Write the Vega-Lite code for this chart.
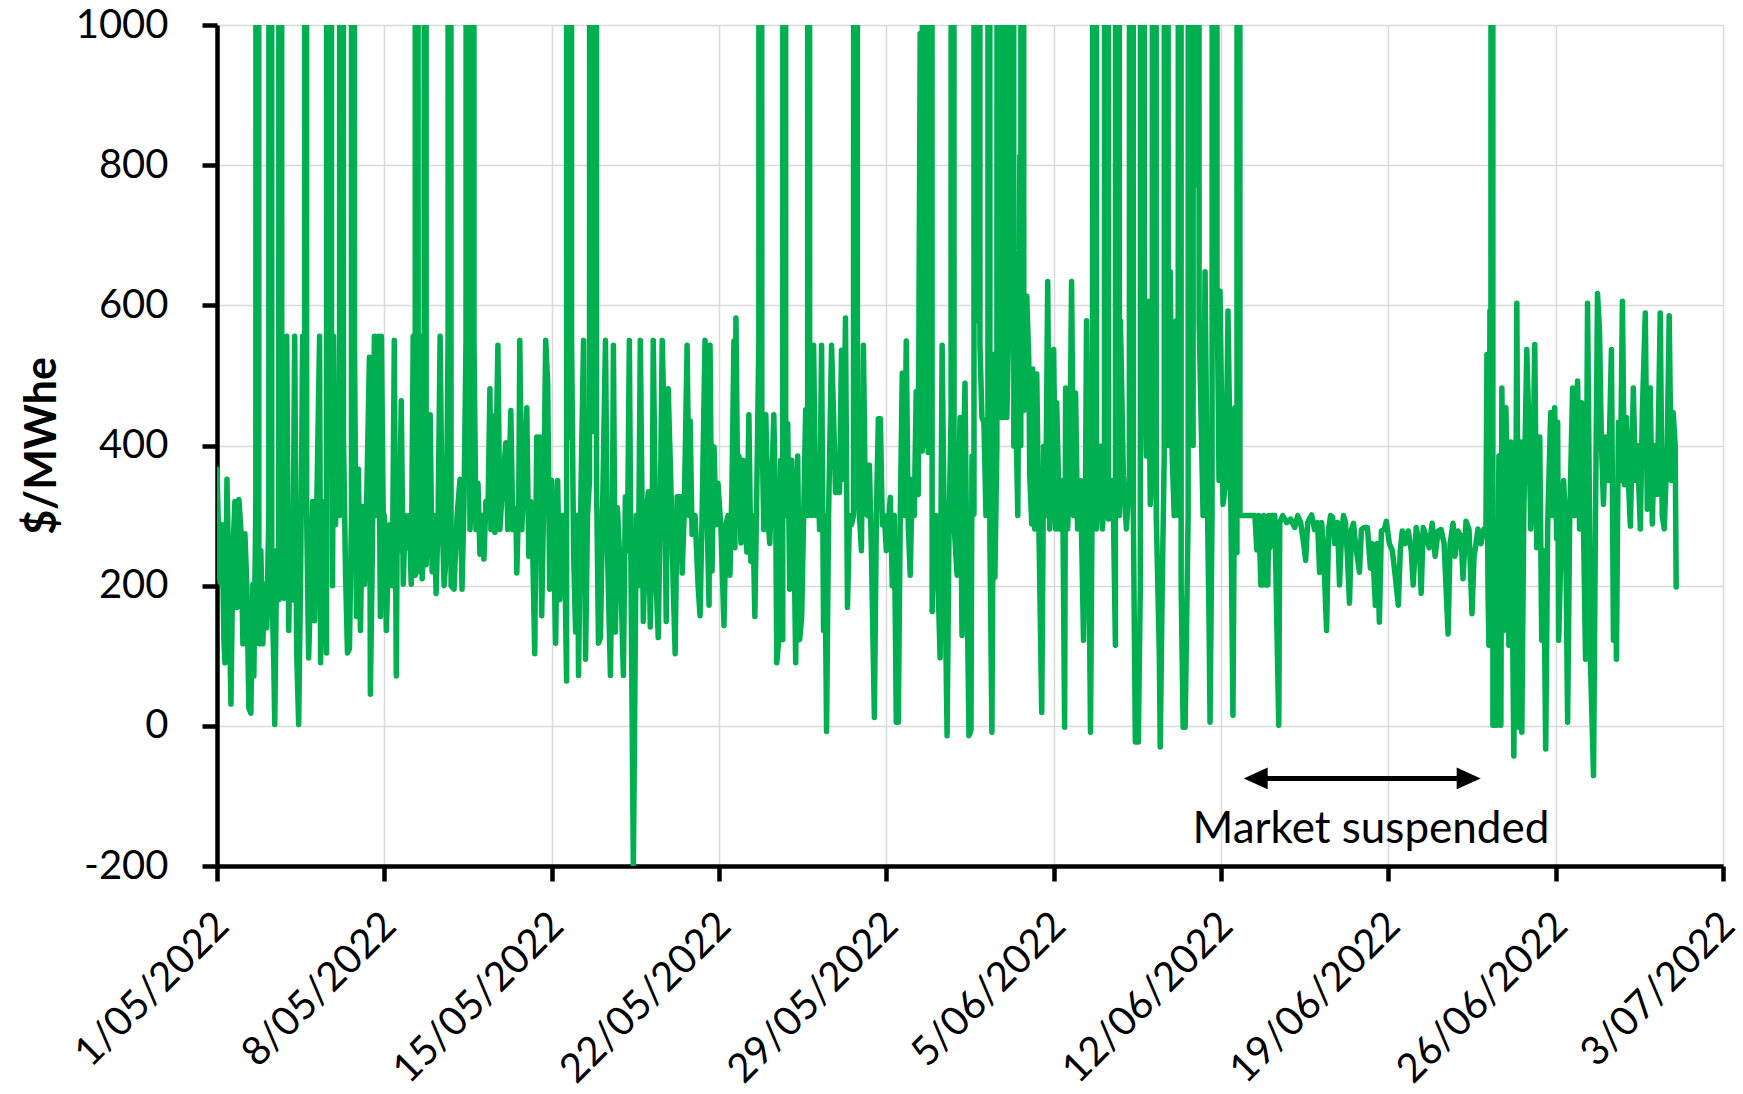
{
  "$schema": "https://vega.github.io/schema/vega-lite/v6.json",
  "autosize": {"type": "none"},
  "padding": {"left": 217, "top": 25, "right": 20, "bottom": 228},
  "width": 1506,
  "height": 841,
  "background": "white",
  "config": {"view": {"stroke": null}, "font": "Lato"},
  "layer": [
    {
      "data": {"values": [
{"t":"2022-05-01T00:00","v":366},{"t":"2022-05-01T02:00","v":250},{"t":"2022-05-01T03:00","v":205},{"t":"2022-05-01T05:00","v":287},{"t":"2022-05-01T07:00","v":120},{"t":"2022-05-01T08:00","v":90},{"t":"2022-05-01T10:00","v":352},{"t":"2022-05-01T12:00","v":200},{"t":"2022-05-01T14:00","v":31},{"t":"2022-05-01T16:00","v":250},{"t":"2022-05-01T18:00","v":320},{"t":"2022-05-01T20:00","v":169},{"t":"2022-05-01T22:00","v":323},
{"t":"2022-05-02T00:00","v":280},{"t":"2022-05-02T02:00","v":117},{"t":"2022-05-02T04:00","v":274},{"t":"2022-05-02T06:00","v":200},{"t":"2022-05-02T08:00","v":25},{"t":"2022-05-02T10:00","v":18},{"t":"2022-05-02T12:00","v":202},{"t":"2022-05-02T13:00","v":71},{"t":"2022-05-02T15:00","v":320},{"t":"2022-05-02T17:00","v":15100},{"t":"2022-05-02T18:00","v":117},{"t":"2022-05-02T20:00","v":250},{"t":"2022-05-02T22:00","v":117},
{"t":"2022-05-03T00:00","v":202},{"t":"2022-05-03T02:00","v":140},{"t":"2022-05-03T04:00","v":300},{"t":"2022-05-03T06:00","v":15100},{"t":"2022-05-03T07:00","v":200},{"t":"2022-05-03T09:00","v":90},{"t":"2022-05-03T10:00","v":2},{"t":"2022-05-03T12:00","v":250},{"t":"2022-05-03T14:00","v":180},{"t":"2022-05-03T16:00","v":15100},{"t":"2022-05-03T17:00","v":556},{"t":"2022-05-03T19:00","v":182},{"t":"2022-05-03T21:00","v":300},{"t":"2022-05-03T22:00","v":556},
{"t":"2022-05-04T00:00","v":136},{"t":"2022-05-04T02:00","v":307},{"t":"2022-05-04T04:00","v":180},{"t":"2022-05-04T06:00","v":556},{"t":"2022-05-04T08:00","v":104},{"t":"2022-05-04T10:00","v":2},{"t":"2022-05-04T12:00","v":221},{"t":"2022-05-04T14:00","v":556},{"t":"2022-05-04T16:00","v":556},{"t":"2022-05-04T17:00","v":15100},{"t":"2022-05-04T18:00","v":300},{"t":"2022-05-04T20:00","v":97},{"t":"2022-05-04T22:00","v":199},
{"t":"2022-05-05T00:00","v":320},{"t":"2022-05-05T02:00","v":150},{"t":"2022-05-05T04:00","v":300},{"t":"2022-05-05T07:00","v":556},{"t":"2022-05-05T08:00","v":90},{"t":"2022-05-05T10:00","v":250},{"t":"2022-05-05T12:00","v":320},{"t":"2022-05-05T14:00","v":104},{"t":"2022-05-05T15:00","v":15100},{"t":"2022-05-05T16:00","v":556},{"t":"2022-05-05T18:00","v":15100},{"t":"2022-05-05T19:00","v":556},{"t":"2022-05-05T20:00","v":200},{"t":"2022-05-05T21:00","v":556},{"t":"2022-05-05T23:00","v":287},
{"t":"2022-05-06T01:00","v":412},{"t":"2022-05-06T03:00","v":300},{"t":"2022-05-06T06:00","v":15100},{"t":"2022-05-06T07:00","v":412},{"t":"2022-05-06T09:00","v":221},{"t":"2022-05-06T11:00","v":104},{"t":"2022-05-06T13:00","v":110},{"t":"2022-05-06T15:00","v":300},{"t":"2022-05-06T16:00","v":15100},{"t":"2022-05-06T18:00","v":556},{"t":"2022-05-06T20:00","v":156},{"t":"2022-05-06T22:00","v":366},
{"t":"2022-05-07T00:00","v":136},{"t":"2022-05-07T02:00","v":313},{"t":"2022-05-07T04:00","v":202},{"t":"2022-05-07T06:00","v":300},{"t":"2022-05-07T09:00","v":526},{"t":"2022-05-07T10:00","v":45},{"t":"2022-05-07T12:00","v":250},{"t":"2022-05-07T14:00","v":556},{"t":"2022-05-07T16:00","v":300},{"t":"2022-05-07T18:00","v":556},{"t":"2022-05-07T20:00","v":156},{"t":"2022-05-07T21:00","v":556},{"t":"2022-05-07T23:00","v":287},
{"t":"2022-05-08T00:00","v":300},{"t":"2022-05-08T02:00","v":136},{"t":"2022-05-08T05:00","v":287},{"t":"2022-05-08T08:00","v":200},{"t":"2022-05-08T10:00","v":550},{"t":"2022-05-08T12:00","v":71},{"t":"2022-05-08T13:00","v":300},{"t":"2022-05-08T15:00","v":250},{"t":"2022-05-08T17:00","v":464},{"t":"2022-05-08T19:00","v":202},{"t":"2022-05-08T21:00","v":300},{"t":"2022-05-08T23:00","v":254},
{"t":"2022-05-09T01:00","v":300},{"t":"2022-05-09T03:00","v":202},{"t":"2022-05-09T05:00","v":556},{"t":"2022-05-09T07:00","v":215},{"t":"2022-05-09T08:00","v":15100},{"t":"2022-05-09T10:00","v":220},{"t":"2022-05-09T12:00","v":556},{"t":"2022-05-09T14:00","v":210},{"t":"2022-05-09T16:00","v":300},{"t":"2022-05-09T17:00","v":15100},{"t":"2022-05-09T18:00","v":230},{"t":"2022-05-09T20:00","v":300},{"t":"2022-05-09T22:00","v":444},
{"t":"2022-05-10T00:00","v":220},{"t":"2022-05-10T02:00","v":300},{"t":"2022-05-10T04:00","v":189},{"t":"2022-05-10T06:00","v":300},{"t":"2022-05-10T08:00","v":556},{"t":"2022-05-10T10:00","v":300},{"t":"2022-05-10T12:00","v":200},{"t":"2022-05-10T14:00","v":240},{"t":"2022-05-10T16:00","v":556},{"t":"2022-05-10T17:00","v":15100},{"t":"2022-05-10T19:00","v":200},{"t":"2022-05-10T22:00","v":195},
{"t":"2022-05-11T01:00","v":300},{"t":"2022-05-11T04:00","v":352},{"t":"2022-05-11T06:00","v":195},{"t":"2022-05-11T08:00","v":320},{"t":"2022-05-11T10:00","v":550},{"t":"2022-05-11T12:00","v":15100},{"t":"2022-05-11T13:00","v":550},{"t":"2022-05-11T14:00","v":280},{"t":"2022-05-11T16:00","v":346},{"t":"2022-05-11T17:00","v":15100},{"t":"2022-05-11T18:00","v":550},{"t":"2022-05-11T20:00","v":280},{"t":"2022-05-11T22:00","v":346},
{"t":"2022-05-12T00:00","v":245},{"t":"2022-05-12T02:00","v":300},{"t":"2022-05-12T04:00","v":238},{"t":"2022-05-12T06:00","v":320},{"t":"2022-05-12T08:00","v":300},{"t":"2022-05-12T10:00","v":481},{"t":"2022-05-12T11:00","v":280},{"t":"2022-05-12T13:00","v":442},{"t":"2022-05-12T15:00","v":276},{"t":"2022-05-12T18:00","v":543},{"t":"2022-05-12T20:00","v":280},{"t":"2022-05-12T23:00","v":350},
{"t":"2022-05-13T02:00","v":404},{"t":"2022-05-13T04:00","v":280},{"t":"2022-05-13T07:00","v":450},{"t":"2022-05-13T09:00","v":280},{"t":"2022-05-13T12:00","v":310},{"t":"2022-05-13T13:00","v":218},{"t":"2022-05-13T15:00","v":330},{"t":"2022-05-13T16:00","v":550},{"t":"2022-05-13T18:00","v":280},{"t":"2022-05-13T20:00","v":350},{"t":"2022-05-13T23:00","v":454},
{"t":"2022-05-14T01:00","v":242},{"t":"2022-05-14T03:00","v":320},{"t":"2022-05-14T05:00","v":250},{"t":"2022-05-14T07:00","v":103},{"t":"2022-05-14T09:00","v":412},{"t":"2022-05-14T11:00","v":300},{"t":"2022-05-14T12:00","v":412},{"t":"2022-05-14T14:00","v":157},{"t":"2022-05-14T16:00","v":320},{"t":"2022-05-14T18:00","v":550},{"t":"2022-05-14T20:00","v":489},{"t":"2022-05-14T22:00","v":195},
{"t":"2022-05-15T00:00","v":350},{"t":"2022-05-15T02:00","v":260},{"t":"2022-05-15T04:00","v":118},{"t":"2022-05-15T06:00","v":350},{"t":"2022-05-15T08:00","v":180},{"t":"2022-05-15T11:00","v":300},{"t":"2022-05-15T13:00","v":250},{"t":"2022-05-15T15:00","v":64},{"t":"2022-05-15T16:00","v":15100},{"t":"2022-05-15T17:00","v":412},{"t":"2022-05-15T19:00","v":15100},{"t":"2022-05-15T20:00","v":550},{"t":"2022-05-15T22:00","v":250},
{"t":"2022-05-16T00:00","v":134},{"t":"2022-05-16T02:00","v":300},{"t":"2022-05-16T03:00","v":72},{"t":"2022-05-16T05:00","v":300},{"t":"2022-05-16T08:00","v":550},{"t":"2022-05-16T10:00","v":95},{"t":"2022-05-16T12:00","v":300},{"t":"2022-05-16T14:00","v":350},{"t":"2022-05-16T16:00","v":15100},{"t":"2022-05-16T18:00","v":420},{"t":"2022-05-16T20:00","v":15100},{"t":"2022-05-16T21:00","v":350},{"t":"2022-05-16T23:00","v":118},
{"t":"2022-05-17T01:00","v":126},{"t":"2022-05-17T03:00","v":300},{"t":"2022-05-17T06:00","v":550},{"t":"2022-05-17T08:00","v":250},{"t":"2022-05-17T11:00","v":72},{"t":"2022-05-17T13:00","v":300},{"t":"2022-05-17T14:00","v":543},{"t":"2022-05-17T16:00","v":134},{"t":"2022-05-17T18:00","v":311},{"t":"2022-05-17T20:00","v":250},{"t":"2022-05-17T22:00","v":180},
{"t":"2022-05-18T00:00","v":72},{"t":"2022-05-18T02:00","v":327},{"t":"2022-05-18T04:00","v":250},{"t":"2022-05-18T06:00","v":550},{"t":"2022-05-18T08:00","v":150},{"t":"2022-05-18T10:00","v":-200},{"t":"2022-05-18T11:00","v":-40},{"t":"2022-05-18T13:00","v":300},{"t":"2022-05-18T15:00","v":200},{"t":"2022-05-18T17:00","v":550},{"t":"2022-05-18T20:00","v":149},{"t":"2022-05-18T23:00","v":300},
{"t":"2022-05-19T01:00","v":334},{"t":"2022-05-19T03:00","v":141},{"t":"2022-05-19T05:00","v":300},{"t":"2022-05-19T06:00","v":550},{"t":"2022-05-19T09:00","v":200},{"t":"2022-05-19T11:00","v":126},{"t":"2022-05-19T13:00","v":300},{"t":"2022-05-19T15:00","v":550},{"t":"2022-05-19T17:00","v":419},{"t":"2022-05-19T19:00","v":149},{"t":"2022-05-19T21:00","v":481},
{"t":"2022-05-20T00:00","v":327},{"t":"2022-05-20T02:00","v":200},{"t":"2022-05-20T04:00","v":103},{"t":"2022-05-20T06:00","v":327},{"t":"2022-05-20T09:00","v":327},{"t":"2022-05-20T11:00","v":218},{"t":"2022-05-20T13:00","v":300},{"t":"2022-05-20T16:00","v":543},{"t":"2022-05-20T18:00","v":300},{"t":"2022-05-20T19:00","v":435},{"t":"2022-05-20T21:00","v":273},
{"t":"2022-05-21T00:00","v":300},{"t":"2022-05-21T03:00","v":200},{"t":"2022-05-21T05:00","v":157},{"t":"2022-05-21T07:00","v":300},{"t":"2022-05-21T10:00","v":550},{"t":"2022-05-21T12:00","v":300},{"t":"2022-05-21T14:00","v":172},{"t":"2022-05-21T15:00","v":543},{"t":"2022-05-21T17:00","v":221},{"t":"2022-05-21T19:00","v":398},{"t":"2022-05-21T21:00","v":287},{"t":"2022-05-21T23:00","v":346},
{"t":"2022-05-22T02:00","v":280},{"t":"2022-05-22T05:00","v":143},{"t":"2022-05-22T07:00","v":287},{"t":"2022-05-22T09:00","v":300},{"t":"2022-05-22T11:00","v":215},{"t":"2022-05-22T13:00","v":339},{"t":"2022-05-22T15:00","v":549},{"t":"2022-05-22T16:00","v":254},{"t":"2022-05-22T17:00","v":582},{"t":"2022-05-22T19:00","v":300},{"t":"2022-05-22T20:00","v":385},{"t":"2022-05-22T22:00","v":261},
{"t":"2022-05-23T00:00","v":379},{"t":"2022-05-23T02:00","v":300},{"t":"2022-05-23T04:00","v":248},{"t":"2022-05-23T06:00","v":444},{"t":"2022-05-23T08:00","v":235},{"t":"2022-05-23T10:00","v":300},{"t":"2022-05-23T12:00","v":156},{"t":"2022-05-23T14:00","v":339},{"t":"2022-05-23T16:00","v":549},{"t":"2022-05-23T17:00","v":15100},{"t":"2022-05-23T19:00","v":438},{"t":"2022-05-23T21:00","v":280},{"t":"2022-05-23T23:00","v":444},
{"t":"2022-05-24T01:00","v":300},{"t":"2022-05-24T03:00","v":260},{"t":"2022-05-24T05:00","v":350},{"t":"2022-05-24T07:00","v":444},{"t":"2022-05-24T09:00","v":300},{"t":"2022-05-24T10:00","v":90},{"t":"2022-05-24T12:00","v":123},{"t":"2022-05-24T14:00","v":379},{"t":"2022-05-24T16:00","v":123},{"t":"2022-05-24T17:00","v":15100},{"t":"2022-05-24T19:00","v":300},{"t":"2022-05-24T21:00","v":431},{"t":"2022-05-24T23:00","v":195},
{"t":"2022-05-25T01:00","v":379},{"t":"2022-05-25T03:00","v":300},{"t":"2022-05-25T05:00","v":90},{"t":"2022-05-25T07:00","v":385},{"t":"2022-05-25T09:00","v":123},{"t":"2022-05-25T11:00","v":156},{"t":"2022-05-25T13:00","v":300},{"t":"2022-05-25T15:00","v":451},{"t":"2022-05-25T17:00","v":300},{"t":"2022-05-25T18:00","v":15100},{"t":"2022-05-25T19:00","v":543},{"t":"2022-05-25T21:00","v":300},{"t":"2022-05-25T23:00","v":543},
{"t":"2022-05-26T01:00","v":300},{"t":"2022-05-26T03:00","v":379},{"t":"2022-05-26T05:00","v":280},{"t":"2022-05-26T07:00","v":543},{"t":"2022-05-26T09:00","v":136},{"t":"2022-05-26T10:00","v":300},{"t":"2022-05-26T12:00","v":-8},{"t":"2022-05-26T14:00","v":300},{"t":"2022-05-26T17:00","v":543},{"t":"2022-05-26T19:00","v":444},{"t":"2022-05-26T21:00","v":333},{"t":"2022-05-26T23:00","v":379},
{"t":"2022-05-27T01:00","v":333},{"t":"2022-05-27T03:00","v":536},{"t":"2022-05-27T05:00","v":352},{"t":"2022-05-27T07:00","v":582},{"t":"2022-05-27T09:00","v":169},{"t":"2022-05-27T11:00","v":300},{"t":"2022-05-27T13:00","v":287},{"t":"2022-05-27T15:00","v":300},{"t":"2022-05-27T18:00","v":15100},{"t":"2022-05-27T19:00","v":339},{"t":"2022-05-27T21:00","v":300},{"t":"2022-05-27T23:00","v":250},
{"t":"2022-05-28T01:00","v":543},{"t":"2022-05-28T03:00","v":307},{"t":"2022-05-28T05:00","v":300},{"t":"2022-05-28T07:00","v":372},{"t":"2022-05-28T09:00","v":250},{"t":"2022-05-28T12:00","v":12},{"t":"2022-05-28T14:00","v":300},{"t":"2022-05-28T16:00","v":438},{"t":"2022-05-28T18:00","v":438},{"t":"2022-05-28T20:00","v":287},{"t":"2022-05-28T22:00","v":300},
{"t":"2022-05-29T00:00","v":250},{"t":"2022-05-29T02:00","v":287},{"t":"2022-05-29T04:00","v":326},{"t":"2022-05-29T06:00","v":200},{"t":"2022-05-29T08:00","v":300},{"t":"2022-05-29T10:00","v":5},{"t":"2022-05-29T12:00","v":5},{"t":"2022-05-29T14:00","v":300},{"t":"2022-05-29T16:00","v":503},{"t":"2022-05-29T18:00","v":300},{"t":"2022-05-29T20:00","v":549},{"t":"2022-05-29T22:00","v":287},
{"t":"2022-05-30T00:00","v":215},{"t":"2022-05-30T02:00","v":352},{"t":"2022-05-30T04:00","v":300},{"t":"2022-05-30T06:00","v":477},{"t":"2022-05-30T08:00","v":330},{"t":"2022-05-30T10:00","v":988},{"t":"2022-05-30T12:00","v":392},{"t":"2022-05-30T14:00","v":15100},{"t":"2022-05-30T15:00","v":400},{"t":"2022-05-30T17:00","v":15100},{"t":"2022-05-30T18:00","v":390},{"t":"2022-05-30T20:00","v":15100},{"t":"2022-05-30T22:00","v":163},
{"t":"2022-05-31T00:00","v":287},{"t":"2022-05-31T02:00","v":300},{"t":"2022-05-31T04:00","v":200},{"t":"2022-05-31T06:00","v":97},{"t":"2022-05-31T08:00","v":543},{"t":"2022-05-31T10:00","v":300},{"t":"2022-05-31T13:00","v":-14},{"t":"2022-05-31T15:00","v":287},{"t":"2022-05-31T17:00","v":444},{"t":"2022-05-31T18:00","v":15100},{"t":"2022-05-31T20:00","v":287},{"t":"2022-05-31T23:00","v":215},
{"t":"2022-06-01T02:00","v":440},{"t":"2022-06-01T04:00","v":129},{"t":"2022-06-01T05:00","v":350},{"t":"2022-06-01T07:00","v":489},{"t":"2022-06-01T09:00","v":200},{"t":"2022-06-01T11:00","v":-14},{"t":"2022-06-01T13:00","v":-6},{"t":"2022-06-01T14:00","v":385},{"t":"2022-06-01T16:00","v":302},{"t":"2022-06-01T17:00","v":15100},{"t":"2022-06-01T18:00","v":651},{"t":"2022-06-01T20:00","v":578},{"t":"2022-06-01T21:00","v":15100},{"t":"2022-06-01T22:00","v":544},
{"t":"2022-06-02T00:00","v":440},{"t":"2022-06-02T02:00","v":433},{"t":"2022-06-02T04:00","v":300},{"t":"2022-06-02T06:00","v":350},{"t":"2022-06-02T07:00","v":15100},{"t":"2022-06-02T08:00","v":267},{"t":"2022-06-02T10:00","v":-9},{"t":"2022-06-02T12:00","v":530},{"t":"2022-06-02T13:00","v":212},{"t":"2022-06-02T15:00","v":399},{"t":"2022-06-02T17:00","v":15100},{"t":"2022-06-02T18:00","v":440},{"t":"2022-06-02T20:00","v":15100},{"t":"2022-06-02T21:00","v":440},{"t":"2022-06-02T22:00","v":15100},{"t":"2022-06-02T23:00","v":537},
{"t":"2022-06-03T01:00","v":440},{"t":"2022-06-03T03:00","v":578},{"t":"2022-06-03T04:00","v":800},{"t":"2022-06-03T06:00","v":15100},{"t":"2022-06-03T08:00","v":399},{"t":"2022-06-03T10:00","v":450},{"t":"2022-06-03T12:00","v":300},{"t":"2022-06-03T14:00","v":813},{"t":"2022-06-03T15:00","v":400},{"t":"2022-06-03T17:00","v":15100},{"t":"2022-06-03T18:00","v":450},{"t":"2022-06-03T21:00","v":613},{"t":"2022-06-03T23:00","v":523},
{"t":"2022-06-04T00:00","v":357},{"t":"2022-06-04T02:00","v":288},{"t":"2022-06-04T03:00","v":509},{"t":"2022-06-04T05:00","v":281},{"t":"2022-06-04T07:00","v":502},{"t":"2022-06-04T09:00","v":300},{"t":"2022-06-04T12:00","v":19},{"t":"2022-06-04T14:00","v":399},{"t":"2022-06-04T16:00","v":300},{"t":"2022-06-04T18:00","v":634},{"t":"2022-06-04T20:00","v":281},{"t":"2022-06-04T22:00","v":350},
{"t":"2022-06-05T00:00","v":537},{"t":"2022-06-05T02:00","v":281},{"t":"2022-06-05T03:00","v":461},{"t":"2022-06-05T06:00","v":281},{"t":"2022-06-05T09:00","v":350},{"t":"2022-06-05T11:00","v":-2},{"t":"2022-06-05T12:00","v":482},{"t":"2022-06-05T14:00","v":281},{"t":"2022-06-05T16:00","v":350},{"t":"2022-06-05T18:00","v":634},{"t":"2022-06-05T20:00","v":300},{"t":"2022-06-05T22:00","v":475},
{"t":"2022-06-06T00:00","v":281},{"t":"2022-06-06T03:00","v":350},{"t":"2022-06-06T06:00","v":122},{"t":"2022-06-06T08:00","v":350},{"t":"2022-06-06T09:00","v":578},{"t":"2022-06-06T11:00","v":300},{"t":"2022-06-06T13:00","v":-9},{"t":"2022-06-06T15:00","v":399},{"t":"2022-06-06T17:00","v":15100},{"t":"2022-06-06T19:00","v":281},{"t":"2022-06-06T21:00","v":399},{"t":"2022-06-06T23:00","v":399},
{"t":"2022-06-07T01:00","v":281},{"t":"2022-06-07T03:00","v":350},{"t":"2022-06-07T05:00","v":15100},{"t":"2022-06-07T07:00","v":295},{"t":"2022-06-07T10:00","v":350},{"t":"2022-06-07T12:00","v":300},{"t":"2022-06-07T14:00","v":115},{"t":"2022-06-07T16:00","v":15100},{"t":"2022-06-07T18:00","v":300},{"t":"2022-06-07T19:00","v":578},{"t":"2022-06-07T22:00","v":357},
{"t":"2022-06-08T01:00","v":281},{"t":"2022-06-08T04:00","v":350},{"t":"2022-06-08T06:00","v":15100},{"t":"2022-06-08T08:00","v":300},{"t":"2022-06-08T10:00","v":-23},{"t":"2022-06-08T13:00","v":-23},{"t":"2022-06-08T15:00","v":200},{"t":"2022-06-08T17:00","v":15100},{"t":"2022-06-08T19:00","v":523},{"t":"2022-06-08T21:00","v":385},{"t":"2022-06-08T23:00","v":606},
{"t":"2022-06-09T01:00","v":316},{"t":"2022-06-09T03:00","v":385},{"t":"2022-06-09T05:00","v":15100},{"t":"2022-06-09T07:00","v":300},{"t":"2022-06-09T10:00","v":108},{"t":"2022-06-09T11:00","v":-30},{"t":"2022-06-09T13:00","v":200},{"t":"2022-06-09T15:00","v":385},{"t":"2022-06-09T17:00","v":15100},{"t":"2022-06-09T19:00","v":400},{"t":"2022-06-09T21:00","v":648},{"t":"2022-06-09T23:00","v":385},
{"t":"2022-06-10T01:00","v":300},{"t":"2022-06-10T03:00","v":578},{"t":"2022-06-10T05:00","v":300},{"t":"2022-06-10T07:00","v":15100},{"t":"2022-06-10T08:00","v":200},{"t":"2022-06-10T10:00","v":-2},{"t":"2022-06-10T12:00","v":-2},{"t":"2022-06-10T15:00","v":300},{"t":"2022-06-10T17:00","v":15100},{"t":"2022-06-10T18:00","v":578},{"t":"2022-06-10T20:00","v":400},{"t":"2022-06-10T21:00","v":15100},{"t":"2022-06-10T23:00","v":772},
{"t":"2022-06-11T00:00","v":15100},{"t":"2022-06-11T02:00","v":578},{"t":"2022-06-11T04:00","v":440},{"t":"2022-06-11T06:00","v":300},{"t":"2022-06-11T08:00","v":648},{"t":"2022-06-11T10:00","v":350},{"t":"2022-06-11T12:00","v":150},{"t":"2022-06-11T13:00","v":5},{"t":"2022-06-11T15:00","v":300},{"t":"2022-06-11T18:00","v":15100},{"t":"2022-06-11T20:00","v":634},{"t":"2022-06-11T22:00","v":350},{"t":"2022-06-11T23:00","v":620},
{"t":"2022-06-12T02:00","v":316},{"t":"2022-06-12T05:00","v":350},{"t":"2022-06-12T07:00","v":592},{"t":"2022-06-12T10:00","v":302},{"t":"2022-06-12T12:00","v":15},{"t":"2022-06-12T14:00","v":454},{"t":"2022-06-12T16:00","v":247},{"t":"2022-06-12T18:00","v":15100},{"t":"2022-06-12T19:00","v":300},{"t":"2022-06-12T22:00","v":300},
{"t":"2022-06-13T02:00","v":300},{"t":"2022-06-13T06:00","v":300},{"t":"2022-06-13T10:00","v":300},{"t":"2022-06-13T12:00","v":251},{"t":"2022-06-13T14:00","v":300},{"t":"2022-06-13T16:00","v":201},{"t":"2022-06-13T18:00","v":201},{"t":"2022-06-13T19:00","v":300},{"t":"2022-06-13T21:00","v":201},{"t":"2022-06-13T23:00","v":201},
{"t":"2022-06-14T00:00","v":300},{"t":"2022-06-14T01:00","v":254},{"t":"2022-06-14T03:00","v":300},{"t":"2022-06-14T06:00","v":300},{"t":"2022-06-14T10:00","v":1},{"t":"2022-06-14T11:00","v":290},{"t":"2022-06-14T14:00","v":300},{"t":"2022-06-14T18:00","v":290},{"t":"2022-06-14T22:00","v":295},
{"t":"2022-06-15T02:00","v":283},{"t":"2022-06-15T05:00","v":300},{"t":"2022-06-15T08:00","v":290},{"t":"2022-06-15T11:00","v":260},{"t":"2022-06-15T13:00","v":236},{"t":"2022-06-15T15:00","v":290},{"t":"2022-06-15T19:00","v":301},{"t":"2022-06-15T22:00","v":280},
{"t":"2022-06-16T01:00","v":290},{"t":"2022-06-16T03:00","v":219},{"t":"2022-06-16T05:00","v":290},{"t":"2022-06-16T07:00","v":250},{"t":"2022-06-16T10:00","v":136},{"t":"2022-06-16T12:00","v":280},{"t":"2022-06-16T14:00","v":300},{"t":"2022-06-16T16:00","v":298},{"t":"2022-06-16T18:00","v":260},{"t":"2022-06-16T21:00","v":290},{"t":"2022-06-16T23:00","v":201},
{"t":"2022-06-17T01:00","v":272},{"t":"2022-06-17T03:00","v":300},{"t":"2022-06-17T05:00","v":290},{"t":"2022-06-17T07:00","v":240},{"t":"2022-06-17T09:00","v":175},{"t":"2022-06-17T11:00","v":280},{"t":"2022-06-17T13:00","v":289},{"t":"2022-06-17T15:00","v":260},{"t":"2022-06-17T19:00","v":219},{"t":"2022-06-17T21:00","v":280},
{"t":"2022-06-18T00:00","v":283},{"t":"2022-06-18T03:00","v":283},{"t":"2022-06-18T06:00","v":225},{"t":"2022-06-18T08:00","v":260},{"t":"2022-06-18T11:00","v":172},{"t":"2022-06-18T13:00","v":260},{"t":"2022-06-18T15:00","v":148},{"t":"2022-06-18T17:00","v":278},{"t":"2022-06-18T20:00","v":280},{"t":"2022-06-18T22:00","v":292},
{"t":"2022-06-19T01:00","v":260},{"t":"2022-06-19T04:00","v":250},{"t":"2022-06-19T07:00","v":213},{"t":"2022-06-19T10:00","v":172},{"t":"2022-06-19T12:00","v":250},{"t":"2022-06-19T14:00","v":278},{"t":"2022-06-19T17:00","v":260},{"t":"2022-06-19T20:00","v":278},{"t":"2022-06-19T23:00","v":250},
{"t":"2022-06-20T01:00","v":201},{"t":"2022-06-20T04:00","v":283},{"t":"2022-06-20T07:00","v":260},{"t":"2022-06-20T09:00","v":189},{"t":"2022-06-20T11:00","v":283},{"t":"2022-06-20T14:00","v":270},{"t":"2022-06-20T17:00","v":254},{"t":"2022-06-20T20:00","v":289},{"t":"2022-06-20T23:00","v":242},
{"t":"2022-06-21T02:00","v":278},{"t":"2022-06-21T05:00","v":280},{"t":"2022-06-21T08:00","v":260},{"t":"2022-06-21T12:00","v":131},{"t":"2022-06-21T14:00","v":260},{"t":"2022-06-21T17:00","v":289},{"t":"2022-06-21T19:00","v":242},{"t":"2022-06-21T22:00","v":278},
{"t":"2022-06-22T01:00","v":270},{"t":"2022-06-22T03:00","v":210},{"t":"2022-06-22T06:00","v":292},{"t":"2022-06-22T09:00","v":280},{"t":"2022-06-22T12:00","v":160},{"t":"2022-06-22T14:00","v":240},{"t":"2022-06-22T16:00","v":260},{"t":"2022-06-22T18:00","v":281},{"t":"2022-06-22T21:00","v":260},
{"t":"2022-06-23T00:00","v":281},{"t":"2022-06-23T02:00","v":281},{"t":"2022-06-23T03:00","v":530},{"t":"2022-06-23T04:00","v":200},{"t":"2022-06-23T05:00","v":115},{"t":"2022-06-23T06:00","v":592},{"t":"2022-06-23T07:00","v":400},{"t":"2022-06-23T08:00","v":15100},{"t":"2022-06-23T09:00","v":1},{"t":"2022-06-23T11:00","v":1},{"t":"2022-06-23T13:00","v":1},{"t":"2022-06-23T15:00","v":385},{"t":"2022-06-23T17:00","v":1},{"t":"2022-06-23T18:00","v":482},{"t":"2022-06-23T20:00","v":136},{"t":"2022-06-23T22:00","v":454},
{"t":"2022-06-24T00:00","v":300},{"t":"2022-06-24T01:00","v":115},{"t":"2022-06-24T03:00","v":405},{"t":"2022-06-24T06:00","v":-43},{"t":"2022-06-24T08:00","v":300},{"t":"2022-06-24T09:00","v":603},{"t":"2022-06-24T11:00","v":-2},{"t":"2022-06-24T13:00","v":405},{"t":"2022-06-24T14:00","v":-9},{"t":"2022-06-24T16:00","v":300},{"t":"2022-06-24T19:00","v":537},{"t":"2022-06-24T21:00","v":433},{"t":"2022-06-24T23:00","v":281},
{"t":"2022-06-25T01:00","v":350},{"t":"2022-06-25T03:00","v":544},{"t":"2022-06-25T05:00","v":254},{"t":"2022-06-25T07:00","v":300},{"t":"2022-06-25T08:00","v":412},{"t":"2022-06-25T10:00","v":122},{"t":"2022-06-25T12:00","v":250},{"t":"2022-06-25T14:00","v":-33},{"t":"2022-06-25T16:00","v":288},{"t":"2022-06-25T19:00","v":447},{"t":"2022-06-25T21:00","v":300},{"t":"2022-06-25T23:00","v":454},
{"t":"2022-06-26T01:00","v":267},{"t":"2022-06-26T02:00","v":433},{"t":"2022-06-26T03:00","v":122},{"t":"2022-06-26T06:00","v":288},{"t":"2022-06-26T08:00","v":350},{"t":"2022-06-26T10:00","v":288},{"t":"2022-06-26T12:00","v":5},{"t":"2022-06-26T14:00","v":288},{"t":"2022-06-26T17:00","v":482},{"t":"2022-06-26T19:00","v":300},{"t":"2022-06-26T22:00","v":492},
{"t":"2022-06-27T00:00","v":281},{"t":"2022-06-27T02:00","v":461},{"t":"2022-06-27T06:00","v":95},{"t":"2022-06-27T08:00","v":603},{"t":"2022-06-27T10:00","v":300},{"t":"2022-06-27T11:00","v":88},{"t":"2022-06-27T14:00","v":-71},{"t":"2022-06-27T16:00","v":300},{"t":"2022-06-27T18:00","v":617},{"t":"2022-06-27T20:00","v":565},{"t":"2022-06-27T22:00","v":400},
{"t":"2022-06-28T00:00","v":316},{"t":"2022-06-28T02:00","v":412},{"t":"2022-06-28T05:00","v":350},{"t":"2022-06-28T08:00","v":537},{"t":"2022-06-28T10:00","v":122},{"t":"2022-06-28T12:00","v":300},{"t":"2022-06-28T13:00","v":95},{"t":"2022-06-28T15:00","v":433},{"t":"2022-06-28T17:00","v":350},{"t":"2022-06-28T19:00","v":606},{"t":"2022-06-28T21:00","v":344},{"t":"2022-06-28T23:00","v":440},
{"t":"2022-06-29T01:00","v":350},{"t":"2022-06-29T03:00","v":285},{"t":"2022-06-29T06:00","v":482},{"t":"2022-06-29T08:00","v":350},{"t":"2022-06-29T10:00","v":400},{"t":"2022-06-29T13:00","v":281},{"t":"2022-06-29T15:00","v":447},{"t":"2022-06-29T18:00","v":589},{"t":"2022-06-29T20:00","v":309},{"t":"2022-06-29T23:00","v":482},
{"t":"2022-06-30T01:00","v":288},{"t":"2022-06-30T03:00","v":400},{"t":"2022-06-30T06:00","v":330},{"t":"2022-06-30T09:00","v":589},{"t":"2022-06-30T11:00","v":300},{"t":"2022-06-30T13:00","v":281},{"t":"2022-06-30T16:00","v":400},{"t":"2022-06-30T18:00","v":585},{"t":"2022-06-30T20:00","v":350},{"t":"2022-06-30T22:00","v":447},
{"t":"2022-07-01T00:00","v":400},{"t":"2022-07-01T01:00","v":198}
      ]},
      "mark": {"type": "line", "clip": true, "color": "#00B050", "strokeWidth": 5.5, "strokeJoin": "round", "strokeCap": "round"},
      "encoding": {
        "x": {
          "field": "t", "type": "temporal",
          "scale": {"domain": [{"year": 2022, "month": 5, "date": 1}, {"year": 2022, "month": 7, "date": 3}], "nice": false},
          "axis": {
            "values": [
              {"year": 2022, "month": 5, "date": 1}, {"year": 2022, "month": 5, "date": 8}, {"year": 2022, "month": 5, "date": 15},
              {"year": 2022, "month": 5, "date": 22}, {"year": 2022, "month": 5, "date": 29}, {"year": 2022, "month": 6, "date": 5},
              {"year": 2022, "month": 6, "date": 12}, {"year": 2022, "month": 6, "date": 19}, {"year": 2022, "month": 6, "date": 26},
              {"year": 2022, "month": 7, "date": 3}
            ],
            "format": "%-d/%m/%Y",
            "title": null,
            "labelAngle": -45, "labelAlign": "right", "labelBaseline": "top",
            "labelFont": "Lato", "labelFontSize": 40, "labelColor": "black", "labelLimit": 0,
            "labelPadding": 24, "labelOffset": -9,
            "labelOverlap": false, "labelFlush": false, "labelBound": false,
            "tickSize": 15, "tickWidth": 4.5, "tickColor": "black",
            "domainColor": "black", "domainWidth": 4.5,
            "grid": true, "gridColor": "#d9d9d9", "gridWidth": 1.5
          }
        },
        "y": {
          "field": "v", "type": "quantitative",
          "scale": {"domain": [-200, 1000], "nice": false, "zero": false},
          "axis": {
            "values": [-200, 0, 200, 400, 600, 800, 1000],
            "labelExpr": "'' + datum.value",
            "title": "$/MWhe",
            "titleFont": "Lato", "titleFontSize": 43, "titleFontWeight": "bold", "titleColor": "black",
            "titleX": -175, "titleY": 420.5, "titleAngle": -90, "titleAlign": "center", "titleBaseline": "middle",
            "labelFont": "Lato", "labelFontSize": 40, "labelColor": "black", "labelLimit": 0,
            "labelPadding": 34, "labelFlush": false, "labelOverlap": false,
            "tickSize": 15, "tickWidth": 4.5, "tickColor": "black",
            "domainColor": "black", "domainWidth": 4.5,
            "grid": true, "gridColor": "#d9d9d9", "gridWidth": 1.5
          }
        }
      }
    },
    {
      "data": {"values": [{}]},
      "mark": {"type": "rule", "color": "black", "strokeWidth": 5},
      "encoding": {
        "x": {"datum": {"year": 2022, "month": 6, "date": 13, "hours": 10, "minutes": 50}, "type": "temporal"},
        "x2": {"datum": {"year": 2022, "month": 6, "date": 22, "hours": 8, "minutes": 40}},
        "y": {"datum": -75, "type": "quantitative"}
      }
    },
    {
      "data": {"values": [{}]},
      "mark": {"type": "point", "shape": "M 1 -0.9 L -1 0 L 1 0.9 Z", "size": 576, "filled": true, "color": "black", "opacity": 1, "strokeWidth": 0},
      "encoding": {
        "x": {"datum": {"year": 2022, "month": 6, "date": 13, "hours": 10, "minutes": 50}, "type": "temporal"},
        "y": {"datum": -75, "type": "quantitative"}
      }
    },
    {
      "data": {"values": [{}]},
      "mark": {"type": "point", "shape": "M -1 -0.9 L 1 0 L -1 0.9 Z", "size": 576, "filled": true, "color": "black", "opacity": 1, "strokeWidth": 0},
      "encoding": {
        "x": {"datum": {"year": 2022, "month": 6, "date": 22, "hours": 8, "minutes": 40}, "type": "temporal"},
        "y": {"datum": -75, "type": "quantitative"}
      }
    },
    {
      "data": {"values": [{"label": "Market suspended"}]},
      "mark": {"type": "text", "font": "Lato", "fontSize": 44, "color": "black", "align": "center", "baseline": "alphabetic"},
      "encoding": {
        "x": {"datum": {"year": 2022, "month": 6, "date": 18, "hours": 6, "minutes": 30}, "type": "temporal"},
        "y": {"datum": -167, "type": "quantitative"},
        "text": {"field": "label"}
      }
    }
  ]
}
